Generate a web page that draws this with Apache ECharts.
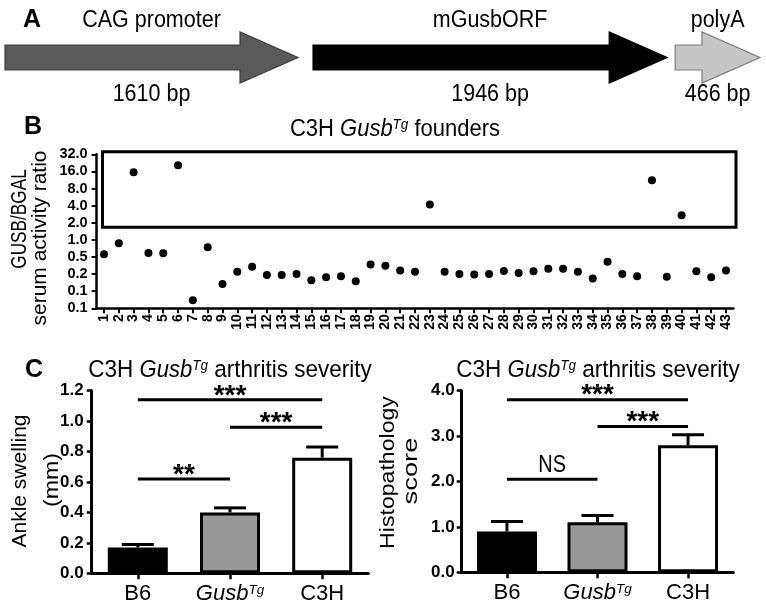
<!DOCTYPE html>
<html><head><meta charset="utf-8">
<script src="https://cdn.jsdelivr.net/npm/echarts@6/dist/echarts.min.js"></script>
<style>html,body{margin:0;padding:0;background:#fff}#c{width:766px;height:607px}</style>
</head><body><div id="c"></div>
<script>
// ---------- Panel A data ----------
const constructParts = ['CAG promoter', 'mGusbORF', 'polyA'];
const constructBp = [1610, 1946, 466];
const constructBpLabels = ['1610 bp', '1946 bp', '466 bp'];

// ---------- Panel B data ----------
const founders = [];
for (let i = 1; i <= 43; i++) founders.push(String(i));
const gusbRatio = [0.56, 0.87, 15.5, 0.59, 0.58, 20.5, 0.087, 0.74, 0.167, 0.275,
  0.337, 0.241, 0.24, 0.25, 0.195, 0.22, 0.23, 0.187, 0.37, 0.35,
  0.29, 0.275, 4.2, 0.275, 0.25, 0.245, 0.25, 0.283, 0.26, 0.28,
  0.31, 0.31, 0.275, 0.21, 0.41, 0.25, 0.23, 11.2, 0.225, 2.7,
  0.28, 0.22, 0.29];
const bTickLabels = ['0.1', '0.1', '0.2', '0.5', '1.0', '2.0', '4.0', '8.0', '16.0', '32.0'];
const highBand = [1.66, 35.5];

// ---------- Panel C data ----------
const groups = ['B6', 'GusbTg', 'C3H'];
const groupLabels = ['B6', '{i|Gusb}{s|Tg}', 'C3H'];
const ankleMean = [0.17, 0.40, 0.76];
const ankleSem = [0.02, 0.03, 0.07];
const histoMean = [0.9, 1.1, 2.8];
const histoSem = [0.22, 0.15, 0.23];
const ankleSigFrom = [0, 1, 0], ankleSigTo = [2, 2, 1], ankleSigY = [1.14, 0.96, 0.62], ankleSigText = ['***', '***', '**'];
const histoSigFrom = [0, 1, 0], histoSigTo = [2, 2, 1], histoSigY = [3.80, 3.21, 2.05], histoSigText = ['***', '***', 'NS'];

// ---------- styling ----------
const FONT = '"Liberation Sans", Arial, Helvetica, sans-serif';
const arrowFill = ['#5a5a5a', '#000000', '#c6c6c6'];
const arrowStroke = ['#3c3c3c', '#000000', '#7a7a7a'];
const arrowGapCum = [0, 15, 23];
const barColors = ['#000000', '#999999', '#ffffff'];
const supRich = {
  i: { fontStyle: 'italic', fontFamily: FONT, fontSize: 22, color: '#000' },
  s: { fontStyle: 'italic', fontFamily: FONT, fontSize: 13.5, color: '#000', verticalAlign: 'top' }
};

const chart = echarts.init(document.getElementById('c'));

let cum = 0;
const arrowData = constructBp.map((bp, i) => { const d = [cum, cum + bp, i]; cum += bp; return d; });

function arrowRender(params, api) {
  const i = params.dataIndex;
  const x0 = api.coord([api.value(0), 0.5])[0] + arrowGapCum[i];
  const x1 = api.coord([api.value(1), 0.5])[0] + arrowGapCum[i];
  const cy = api.coord([0, 0.5])[1];
  const sh = 12.5, hh = 25.5, hl = 58;
  const xh = x1 - hl;
  const xc = (x0 + x1) / 2;
  return {
    type: 'group',
    children: [
      { type: 'polygon', shape: { points: [[x0, cy - sh], [xh, cy - sh], [xh, cy - hh], [x1, cy], [xh, cy + hh], [xh, cy + sh], [x0, cy + sh]] },
        style: { fill: arrowFill[i], stroke: arrowStroke[i], lineWidth: 1.2 } },
      { type: 'text', x: xc, y: cy - 37, scaleY: 1.1,
        style: { text: constructParts[i], fontFamily: FONT, fontSize: 21.5, fill: '#000', align: 'center', verticalAlign: 'middle', textAlign: 'center', textVerticalAlign: 'middle' } },
      { type: 'text', x: xc, y: cy + 36.5, scaleY: 1.1,
        style: { text: constructBpLabels[i], fontFamily: FONT, fontSize: 21.5, fill: '#000', align: 'center', verticalAlign: 'middle', textAlign: 'center', textVerticalAlign: 'middle' } }
    ]
  };
}

function boxRender(params, api) {
  const p0 = api.coord([api.value(0), api.value(3)]);
  const p1 = api.coord([api.value(1), api.value(2)]);
  return { type: 'rect', shape: { x: p0[0] - 1.5, y: p0[1], width: p1[0] - p0[0] + 11.5, height: p1[1] - p0[1] },
    style: { fill: 'none', stroke: '#000', lineWidth: 3 } };
}

function errRender(params, api) {
  const top = api.coord([api.value(0), api.value(1) + api.value(2)]);
  const base = api.coord([api.value(0), api.value(1)]);
  const hw = 16;
  return { type: 'group', children: [
    { type: 'line', shape: { x1: base[0], y1: base[1], x2: top[0], y2: top[1] }, style: { stroke: '#000', lineWidth: 3 } },
    { type: 'line', shape: { x1: top[0] - hw, y1: top[1], x2: top[0] + hw, y2: top[1] }, style: { stroke: '#000', lineWidth: 3 } }
  ] };
}

function makeSigRender(texts) {
  return function (params, api) {
    const a = api.coord([api.value(0), api.value(2)]);
    const b = api.coord([api.value(1), api.value(2)]);
    const t = texts[params.dataIndex];
    const isStars = t.indexOf('*') >= 0;
    return { type: 'group', children: [
      { type: 'line', shape: { x1: a[0], y1: a[1], x2: b[0], y2: b[1] }, style: { stroke: '#000', lineWidth: 3 } },
      { type: 'text', x: (a[0] + b[0]) / 2, y: isStars ? a[1] - 4 : a[1] - 14, scaleY: isStars ? 1 : 1.15,
        style: { text: t, fontFamily: FONT, fontSize: isStars ? 28 : 20, fontWeight: isStars ? 'bold' : 'normal', fill: '#000',
          align: 'center', verticalAlign: 'middle', textAlign: 'center', textVerticalAlign: 'middle' } }
    ] };
  };
}

function gText(text, x, y, size, opts) {
  opts = opts || {};
  return {
    type: 'text', x: x, y: y, rotation: opts.rot || 0, scaleX: opts.sx || 1, scaleY: opts.sy || 1,
    style: { text: text, fontFamily: FONT, fontSize: size, fontWeight: opts.bold ? 'bold' : 'normal', fill: '#000',
      rich: opts.rich, align: 'center', verticalAlign: 'middle', textAlign: 'center', textVerticalAlign: 'middle' }
  };
}

const titleRich = {
  i: { fontStyle: 'italic', fontFamily: FONT, fontSize: 22, fill: '#000', color: '#000' },
  s: { fontStyle: 'italic', fontFamily: FONT, fontSize: 13.5, fill: '#000', color: '#000', verticalAlign: 'top' }
};
const R = Math.PI / 2;

const catAxisC = (gi) => ({
  type: 'category', gridIndex: gi, data: groups,
  axisLine: { show: true, onZero: false, lineStyle: { color: '#000', width: 3 } },
  axisTick: { show: true, alignWithLabel: true, length: 6, lineStyle: { color: '#000', width: 2.5 } },
  axisLabel: { interval: 0, margin: 10, color: '#000', fontFamily: FONT, fontSize: 22,
    formatter: (v, idx) => groupLabels[idx], rich: supRich },
  splitLine: { show: false }
});
const valAxisC = (gi, max, interval, margin) => ({
  type: 'value', gridIndex: gi, min: 0, max: max, interval: interval,
  axisLine: { show: true, lineStyle: { color: '#000', width: 3 } },
  axisTick: { show: true, length: 5, lineStyle: { color: '#000', width: 2.5 } },
  axisLabel: { color: '#000', fontFamily: FONT, fontSize: 17, fontWeight: 'bold', margin: margin, hideOverlap: false,
    formatter: v => v.toFixed(1) },
  splitLine: { show: false }
});

chart.setOption({
  animation: false,
  backgroundColor: '#fff',
  grid: [
    { left: 5, top: 0, width: 732, height: 115, containLabel: false },
    { left: 96.6, top: 154.3, width: 636.8, height: 154, containLabel: false },
    { left: 91.7, top: 390.7, width: 276.6, height: 182.6, containLabel: false },
    { left: 461.7, top: 390.7, width: 271.6, height: 181.6, containLabel: false }
  ],
  xAxis: [
    { type: 'value', gridIndex: 0, min: 0, max: 4022, show: false },
    { type: 'category', gridIndex: 1, data: founders,
      axisLine: { show: true, onZero: false, lineStyle: { color: '#000', width: 2.5 } },
      axisTick: { show: true, alignWithLabel: true, length: 5, lineStyle: { color: '#000', width: 2 } },
      axisLabel: { interval: 0, rotate: 90, margin: 6, color: '#000', fontFamily: FONT, fontSize: 14, fontWeight: 'bold', hideOverlap: false },
      splitLine: { show: false } },
    catAxisC(2),
    catAxisC(3)
  ],
  yAxis: [
    { type: 'value', gridIndex: 0, min: 0, max: 1, show: false },
    { type: 'value', gridIndex: 1, min: -4, max: 5, interval: 1,
      axisLine: { show: true, onZero: false, lineStyle: { color: '#000', width: 2.5 } },
      axisTick: { show: true, length: 5, lineStyle: { color: '#000', width: 2 } },
      axisLabel: { color: '#000', fontFamily: FONT, fontSize: 14.5, fontWeight: 'bold', margin: 9, hideOverlap: false,
        formatter: v => bTickLabels[Math.round(v) + 4] },
      splitLine: { show: false } },
    valAxisC(2, 1.2, 0.2, 8),
    valAxisC(3, 4, 1, 7)
  ],
  series: [
    { type: 'custom', xAxisIndex: 0, yAxisIndex: 0, renderItem: arrowRender, data: arrowData, encode: { x: [0, 1] }, silent: true },
    { type: 'scatter', xAxisIndex: 1, yAxisIndex: 1, symbol: 'circle', symbolSize: 8,
      itemStyle: { color: '#000', opacity: 1 }, data: gusbRatio.map(v => Math.log2(v)) },
    { type: 'custom', xAxisIndex: 1, yAxisIndex: 1, renderItem: boxRender,
      data: [[0, founders.length - 1, Math.log2(highBand[0]), Math.log2(highBand[1])]], encode: { x: [0, 1], y: [2, 3] }, z: 3 },
    { type: 'bar', xAxisIndex: 2, yAxisIndex: 2, barWidth: 60,
      itemStyle: { borderColor: '#000', borderWidth: 3, opacity: 1 },
      data: ankleMean.map((v, i) => ({ value: v, itemStyle: { color: barColors[i] } })) },
    { type: 'custom', xAxisIndex: 2, yAxisIndex: 2, renderItem: errRender, z: 4,
      data: ankleMean.map((v, i) => [i, v, ankleSem[i]]), encode: { x: 0, y: 1 } },
    { type: 'custom', xAxisIndex: 2, yAxisIndex: 2, renderItem: makeSigRender(ankleSigText), z: 4,
      data: ankleSigY.map((y, i) => [ankleSigFrom[i], ankleSigTo[i], y]), encode: { x: [0, 1], y: 2 } },
    { type: 'bar', xAxisIndex: 3, yAxisIndex: 3, barWidth: 60,
      itemStyle: { borderColor: '#000', borderWidth: 3, opacity: 1 },
      data: histoMean.map((v, i) => ({ value: v, itemStyle: { color: barColors[i] } })) },
    { type: 'custom', xAxisIndex: 3, yAxisIndex: 3, renderItem: errRender, z: 4,
      data: histoMean.map((v, i) => [i, v, histoSem[i]]), encode: { x: 0, y: 1 } },
    { type: 'custom', xAxisIndex: 3, yAxisIndex: 3, renderItem: makeSigRender(histoSigText), z: 4,
      data: histoSigY.map((y, i) => [histoSigFrom[i], histoSigTo[i], y]), encode: { x: [0, 1], y: 2 } }
  ],
  graphic: { elements: [
    gText('A', 32, 20.5, 25, { bold: true }),
    gText('B', 33, 127, 25, { bold: true }),
    gText('C', 34, 370, 25, { bold: true }),
    gText('C3H {i|Gusb}{s|Tg} founders', 395, 129.5, 22, { rich: titleRich, sy: 1.08 }),
    gText('C3H {i|Gusb}{s|Tg} arthritis severity', 230, 370.5, 22.5, { rich: titleRich, sy: 1.08 }),
    gText('C3H {i|Gusb}{s|Tg} arthritis severity', 598, 370.5, 22.5, { rich: titleRich, sy: 1.08 }),
    gText('GUSB/BGAL', 19.5, 219, 21, { rot: R, sx: 0.82, sy: 1.05 }),
    gText('serum activity ratio', 40, 238, 21, { rot: R }),
    gText('Ankle swelling', 20.5, 481, 21, { rot: R }),
    gText('(mm)', 52, 480, 21, { rot: R, sx: 1.1 }),
    gText('Histopathology', 388.5, 472.5, 21, { rot: R, sx: 1.1 }),
    gText('score', 411, 471, 21, { rot: R, sx: 1.3 })
  ] }
});
</script>
</body></html>
